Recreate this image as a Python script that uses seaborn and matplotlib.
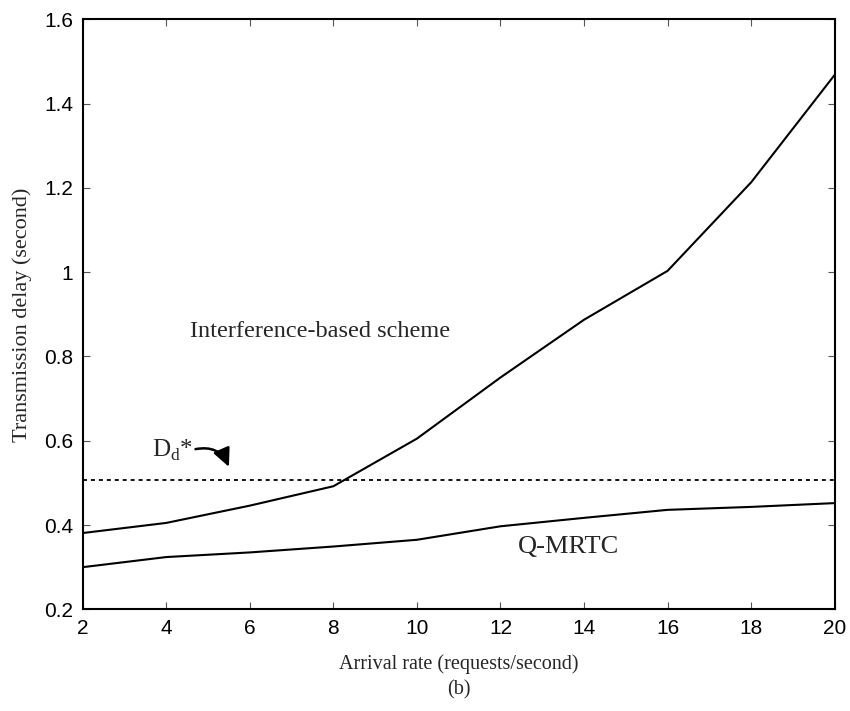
import matplotlib
matplotlib.use("Agg")
import matplotlib.pyplot as plt
import seaborn as sns
import pandas as pd

# Arrival rate (requests/second)
arrival_rate = [2, 4, 6, 8, 10, 12, 14, 16, 18, 20]
# Transmission delay (second) for each scheme
interference_delay = [0.381, 0.405, 0.446, 0.492, 0.605, 0.750, 0.887, 1.003, 1.213, 1.468]
qmrtc_delay = [0.300, 0.324, 0.335, 0.349, 0.365, 0.397, 0.417, 0.436, 0.443, 0.452]
# Delay bound D_d*
delay_bound = 0.507

x_ticks = [2, 4, 6, 8, 10, 12, 14, 16, 18, 20]
y_ticks = [0.2, 0.4, 0.6, 0.8, 1.0, 1.2, 1.4, 1.6]
y_tick_labels = ["0.2", "0.4", "0.6", "0.8", "1", "1.2", "1.4", "1.6"]

df = pd.DataFrame({
    "rate": arrival_rate * 2,
    "delay": interference_delay + qmrtc_delay,
    "scheme": ["Interference-based scheme"] * len(arrival_rate) + ["Q-MRTC"] * len(arrival_rate),
})

sns.set_theme(style="white")
plt.rcParams["font.family"] = ["Liberation Sans", "DejaVu Sans"]

fig = plt.figure(figsize=(8.5, 7.11), dpi=100)
ax = fig.add_axes([0.0973, 0.143, 0.8847, 0.830])

sns.lineplot(data=df, x="rate", y="delay", units="scheme", estimator=None,
             color="black", linewidth=1.5, ax=ax, legend=False)
ax.axhline(delay_bound, color="black", linewidth=1.3, dashes=(2.2, 2.2))

ax.set_xlim(2, 20)
ax.set_ylim(0.2, 1.6)
ax.set_xticks(x_ticks)
ax.set_xticklabels([str(t) for t in x_ticks])
ax.set_yticks(y_ticks)
ax.set_yticklabels(y_tick_labels)
ax.tick_params(direction="in", length=5, width=0.8, color="#555555",
               labelsize=15, labelcolor="black", pad=7,
               top=True, right=True, bottom=True, left=True)
for sp in ax.spines.values():
    sp.set_visible(True)
    sp.set_color("black")
    sp.set_linewidth(1.5)
ax.set_xlabel("")
ax.set_ylabel("")

serif = ["Liberation Serif", "DejaVu Serif"]
ax.text(4.57, 0.858, "Interference-based scheme", family=serif, fontsize=17.5,
        va="center", ha="left")
ax.text(12.42, 0.347, "Q-MRTC", family=serif, fontsize=19, va="center", ha="left")
ax.text(3.66, 0.578, r"D$_{\mathregular{d}}$*", family=serif, fontsize=18,
        va="center", ha="left")
ax.annotate("", xy=(5.50, 0.538), xytext=(4.70, 0.580),
            arrowprops=dict(arrowstyle="-|>,head_length=0.55,head_width=0.26",
                            connectionstyle="arc3,rad=-0.4",
                            mutation_scale=20, shrinkA=0, shrinkB=0,
                            color="black", lw=1.8))

fig.text(459 / 850, 1 - 664 / 711, "Arrival rate (requests/second)", family=serif,
         fontsize=14.5, ha="center", va="center")
fig.text(459 / 850, 1 - 690 / 711, "(b)", family=serif,
         fontsize=14.5, ha="center", va="center")
fig.text(22 / 850, 1 - 315 / 711, "Transmission delay (second)", family=serif,
         fontsize=16, ha="center", va="center", rotation=90)

fig.savefig("out.png", dpi=100, facecolor="white")
